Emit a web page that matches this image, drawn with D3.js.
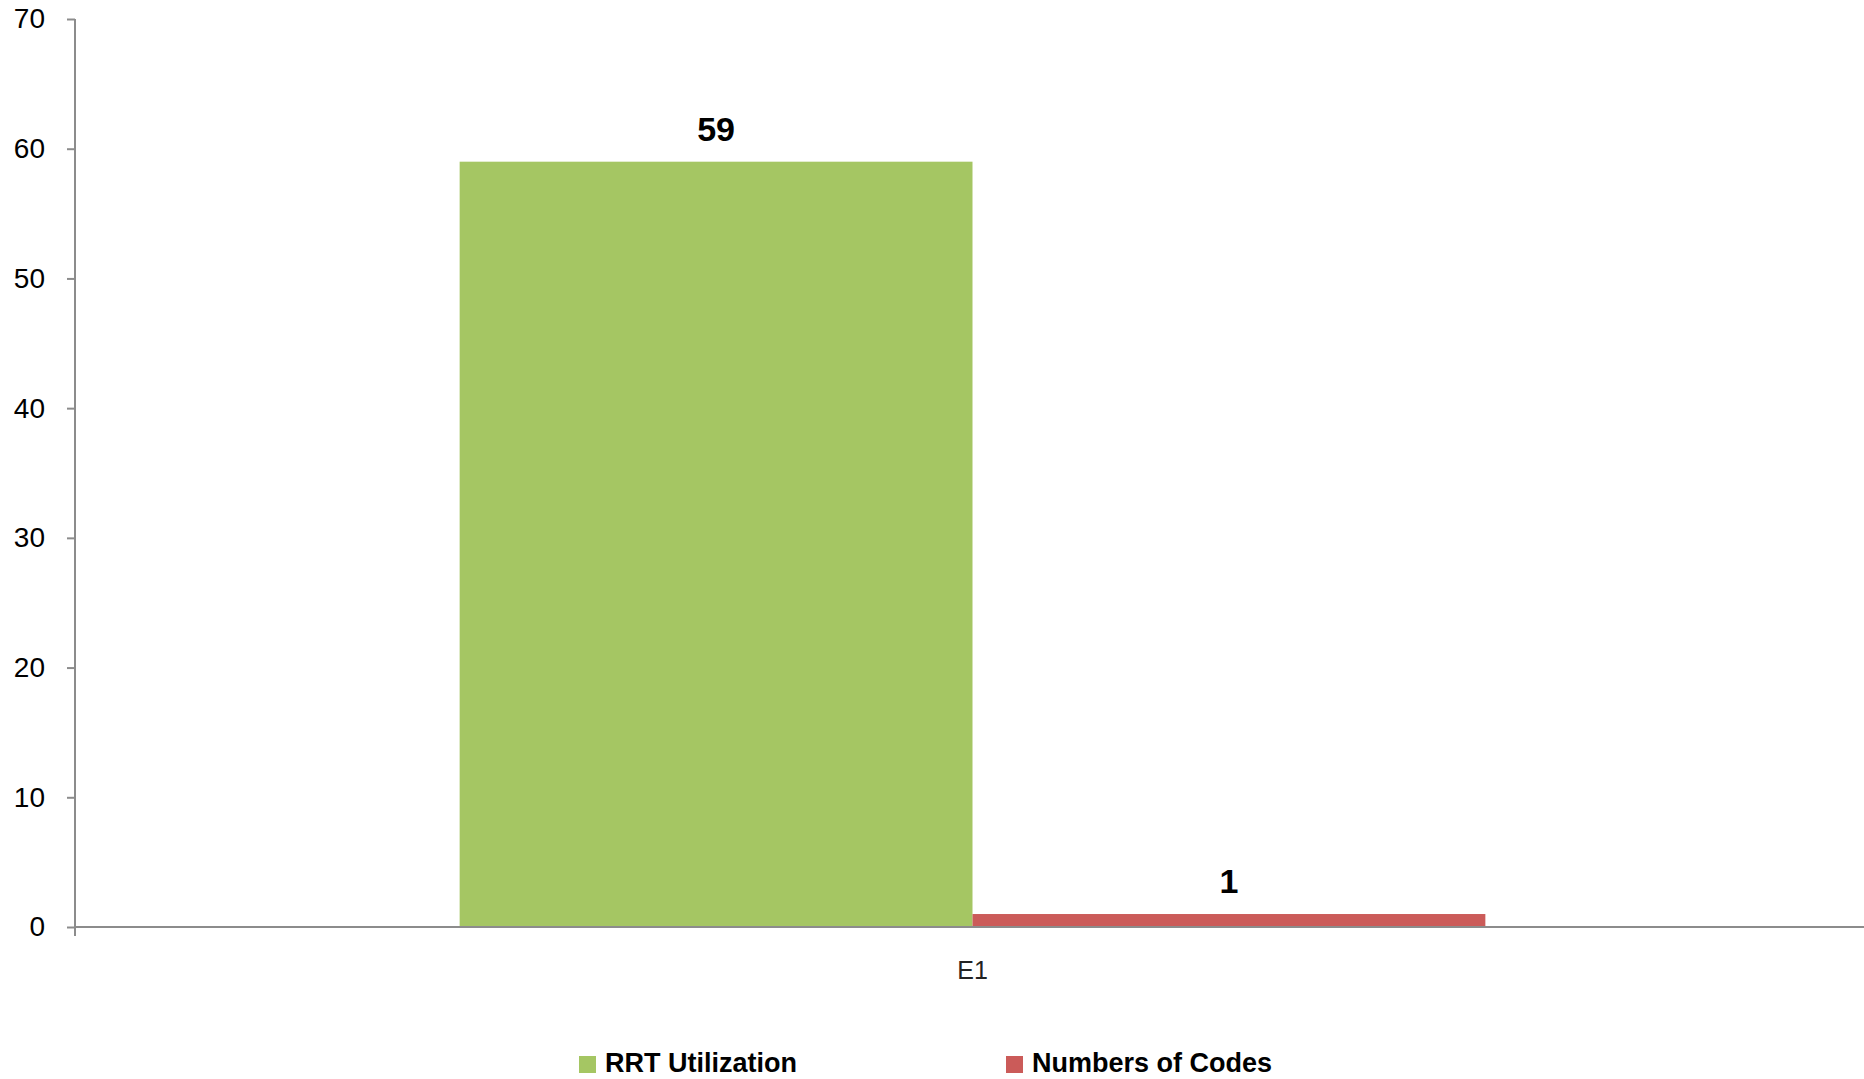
<!DOCTYPE html>
<html><head><meta charset="utf-8">
<script src="https://cdn.jsdelivr.net/npm/d3@7"></script>
<style>html,body{margin:0;padding:0;background:#fff;}svg{display:block;}</style>
</head><body>
<script>
const categories = ["E1"];
const seriesNames = ["RRT Utilization", "Numbers of Codes"];
const rrtValues = [59];
const codesValues = [1];
const yTicks = [0, 10, 20, 30, 40, 50, 60, 70];
const colors = ["#A5C663", "#CB5B59"];

const W = 1864, H = 1079;
const m = {left: 75, right: -6, top: 19, bottom: 152};
const svg = d3.select("body").append("svg").attr("width", W).attr("height", H);
const font = "'Liberation Sans', Arial, sans-serif";

const x = d3.scaleBand().domain(categories).range([m.left, W - m.right]).paddingInner(0).paddingOuter(0);
const y = d3.scaleLinear().domain([0, 70]).range([H - m.bottom, m.top]);
const groupW = x.bandwidth() / 1.75;
const x1 = d3.scaleBand().domain(seriesNames).range([0, groupW]);

const data = categories.map((c, i) => ({cat: c, vals: [rrtValues[i], codesValues[i]]}));

const g = svg.append("g");
data.forEach(d => {
  const x0 = x(d.cat) + (x.bandwidth() - groupW) / 2;
  d.vals.forEach((v, j) => {
    g.append("rect")
      .attr("x", x0 + x1(seriesNames[j]))
      .attr("y", y(v))
      .attr("width", x1.bandwidth())
      .attr("height", y(0) - y(v))
      .attr("fill", colors[j]);
    g.append("text")
      .attr("x", x0 + x1(seriesNames[j]) + x1.bandwidth() / 2)
      .attr("y", y(v) - 21)
      .attr("text-anchor", "middle")
      .attr("font-family", font).attr("font-weight", "bold").attr("font-size", 34)
      .attr("fill", "#000").text(v);
  });
});

// y axis
const yAxis = d3.axisLeft(y).tickValues(yTicks).tickSize(8).tickPadding(22);
const ya = svg.append("g").attr("transform", `translate(${m.left},0)`).call(yAxis);
ya.select(".domain").attr("stroke", "#8C8C8C").attr("stroke-width", 2).attr("d", `M0,${y(70)}V${y(0)}`);
ya.selectAll(".tick line").attr("stroke", "#8C8C8C").attr("stroke-width", 2);
ya.selectAll(".tick text").attr("font-family", font).attr("font-size", 28).attr("fill", "#000");

// x axis
const xAxis = d3.axisBottom(x).tickSize(0).tickPadding(39);
const xa = svg.append("g").attr("transform", `translate(0,${y(0)})`).call(xAxis);
xa.select(".domain").attr("stroke", "#8C8C8C").attr("stroke-width", 2).attr("d", `M${m.left},0H${W}`);
xa.selectAll(".tick text").attr("font-family", font).attr("font-size", 25).attr("fill", "#222").attr("dy", "0.5em");
// category boundary ticks
xa.selectAll(".edge").data([m.left]).enter().append("line")
  .attr("x1", d => d).attr("x2", d => d).attr("y1", 0).attr("y2", 9)
  .attr("stroke", "#8C8C8C").attr("stroke-width", 2);

// legend
const legendX = [579, 1006];
const lg = svg.append("g");
seriesNames.forEach((s, j) => {
  lg.append("rect").attr("x", legendX[j]).attr("y", 1056).attr("width", 17).attr("height", 17).attr("fill", colors[j]);
  lg.append("text").attr("x", legendX[j] + 26).attr("y", 1072)
    .attr("font-family", font).attr("font-weight", "bold").attr("font-size", 27)
    .attr("fill", "#000").text(s);
});
</script>
</body></html>
